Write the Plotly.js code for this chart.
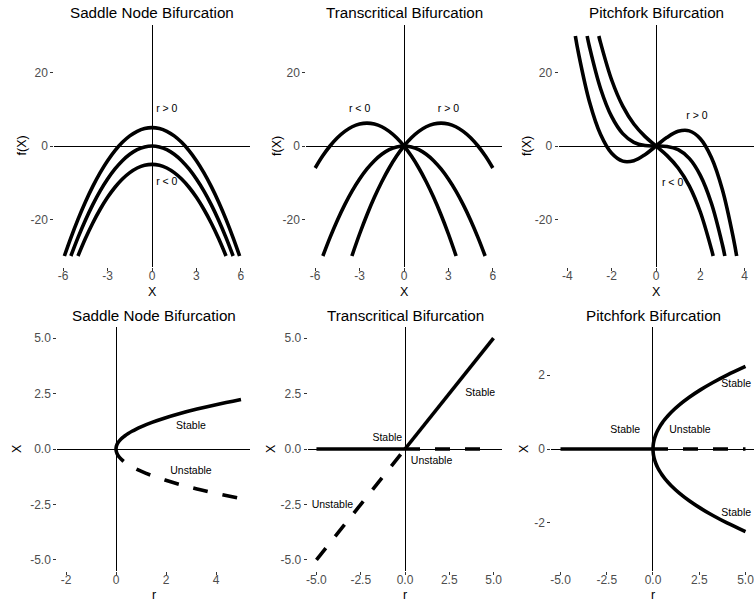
<!DOCTYPE html>
<html>
<head>
<meta charset="utf-8">
<script src="https://cdn.plot.ly/plotly-3.0.1.min.js"></script>
<style>html,body{margin:0;padding:0;background:#fff;}#chart{width:754px;height:601px;}</style>
</head>
<body>
<div id="chart"></div>
<script>
// ---------- DATA ----------
// Saddle node f(X) = r - X^2 (r = 5, 0, -5), clipped at -30
const snPosX = [-5.92,-5.5,-5,-4.5,-4,-3.5,-3,-2.5,-2,-1.5,-1,-0.5,0,0.5,1,1.5,2,2.5,3,3.5,4,4.5,5,5.5,5.92];
const snPosY = [-30,-25.25,-20,-15.25,-11,-7.25,-4,-1.25,1,2.75,4,4.75,5,4.75,4,2.75,1,-1.25,-4,-7.25,-11,-15.25,-20,-25.25,-30];
const snZeroX = [-5.48,-5,-4.5,-4,-3.5,-3,-2.5,-2,-1.5,-1,-0.5,0,0.5,1,1.5,2,2.5,3,3.5,4,4.5,5,5.48];
const snZeroY = [-30,-25,-20.25,-16,-12.25,-9,-6.25,-4,-2.25,-1,-0.25,0,-0.25,-1,-2.25,-4,-6.25,-9,-12.25,-16,-20.25,-25,-30];
const snNegX = [-5,-4.5,-4,-3.5,-3,-2.5,-2,-1.5,-1,-0.5,0,0.5,1,1.5,2,2.5,3,3.5,4,4.5,5];
const snNegY = [-30,-25.25,-21,-17.25,-14,-11.25,-9,-7.25,-6,-5.25,-5,-5.25,-6,-7.25,-9,-11.25,-14,-17.25,-21,-25.25,-30];

// Transcritical f(X) = rX - X^2
const tcPosX = [-3.52,-3,-2.5,-2,-1.5,-1,-0.5,0,0.5,1,1.5,2,2.5,3,3.5,4,4.5,5,5.5,6];
const tcPosY = [-30,-24,-18.75,-14,-9.75,-6,-2.75,0,2.25,4,5.25,6,6.25,6,5.25,4,2.25,0,-2.75,-6];
const tcZeroX = [-5.48,-5,-4.5,-4,-3.5,-3,-2.5,-2,-1.5,-1,-0.5,0,0.5,1,1.5,2,2.5,3,3.5,4,4.5,5,5.48];
const tcZeroY = [-30,-25,-20.25,-16,-12.25,-9,-6.25,-4,-2.25,-1,-0.25,0,-0.25,-1,-2.25,-4,-6.25,-9,-12.25,-16,-20.25,-25,-30];
const tcNegX = [-6,-5.5,-5,-4.5,-4,-3.5,-3,-2.5,-2,-1.5,-1,-0.5,0,0.5,1,1.5,2,2.5,3,3.52];
const tcNegY = [-6,-2.75,0,2.25,4,5.25,6,6.25,6,5.25,4,2.25,0,-2.75,-6,-9.75,-14,-18.75,-24,-30];

// Pitchfork f(X) = rX - X^3, clipped at +/-30
const pfPosX = [-3.64,-3.5,-3,-2.5,-2,-1.5,-1,-0.5,0,0.5,1,1.5,2,2.5,3,3.5,3.64];
const pfPosY = [30,25.375,12,3.125,-2,-4.125,-4,-2.375,0,2.375,4,4.125,2,-3.125,-12,-25.375,-30];
const pfZeroX = [-3.107,-3,-2.5,-2,-1.5,-1,-0.5,0,0.5,1,1.5,2,2.5,3,3.107];
const pfZeroY = [30,27,15.625,8,3.375,1,0.125,0,-0.125,-1,-3.375,-8,-15.625,-27,-30];
const pfNegX = [-2.58,-2.5,-2,-1.5,-1,-0.5,0,0.5,1,1.5,2,2.5,2.58];
const pfNegY = [30,28.125,18,10.875,6,2.625,0,-2.625,-6,-10.875,-18,-28.125,-30];

// Bifurcation diagrams
const sqrtR = [0,0.01,0.04,0.09,0.16,0.25,0.36,0.49,0.64,0.81,1,1.44,1.96,2.56,3.24,4,5];
const sqrtPos = [0,0.1,0.2,0.3,0.4,0.5,0.6,0.7,0.8,0.9,1,1.2,1.4,1.6,1.8,2,2.236];
const sqrtNeg = [0,-0.1,-0.2,-0.3,-0.4,-0.5,-0.6,-0.7,-0.8,-0.9,-1,-1.2,-1.4,-1.6,-1.8,-2,-2.236];

const leftR = [-5,0], rightR = [0,5], flatX = [0,0];
const diagLeftX = [-5,0], diagRightX = [0,5];

// Labels
const sfLabX = [1,1], sfLabY = [10,-10], sfLabT = ['r > 0','r < 0'];
const tfLabX = [-3,3], tfLabY = [10,10], tfLabT = ['r < 0','r > 0'];
const pfLabX = [1.85,0.75], pfLabY = [8,-10.3], pfLabT = ['r > 0','r < 0'];
const sbLabX = [3,3], sbLabY = [1,-1], sbLabT = ['Stable','Unstable'];
const tbLabX = [-1,1.5,4.25,-4.1], tbLabY = [0.5,-0.55,2.5,-2.55], tbLabT = ['Stable','Unstable','Stable','Unstable'];
const pbLabX = [-1.5,2,4.5,4.5], pbLabY = [0.5,0.5,1.75,-1.75], pbLabT = ['Stable','Unstable','Stable','Stable'];

const titles = ['Saddle Node Bifurcation','Transcritical Bifurcation','Pitchfork Bifurcation',
                'Saddle Node Bifurcation','Transcritical Bifurcation','Pitchfork Bifurcation'];

const ticksTopSN = [-6,-3,0,3,6],      ticksTopSNText = ['-6','-3','0','3','6'];
const ticksTopPF = [-4,-2,0,2,4],      ticksTopPFText = ['-4','-2','0','2','4'];
const ticksFX = [-20,0,20],            ticksFXText = ['-20','0','20'];
const ticksSNr = [-2,0,2,4],           ticksSNrText = ['-2','0','2','4'];
const ticks5 = [-5,-2.5,0,2.5,5],      ticks5Text = ['-5.0','-2.5','0.0','2.5','5.0'];
const ticksPFy = [-2,0,2],             ticksPFyText = ['-2','0','2'];

// ---------- LAYOUT ----------
const W = 754, H = 601;
const FONT = 'Liberation Sans, Arial, Helvetica, sans-serif';
const px = (a,b) => [a/W, b/W];
const py = (top,bottom) => [1-bottom/H, 1-top/H];

function line(x,y,xa,ya,opts){
  opts = opts || {};
  return {type:'scatter', mode:'lines', x:x, y:y, xaxis:xa, yaxis:ya,
    line:{color:'#000', width:3.6, shape: opts.shape||'linear', dash: opts.dash||'solid'},
    hoverinfo:'skip', showlegend:false};
}
function labels(x,y,t,xa,ya){
  return {type:'scatter', mode:'text', x:x, y:y, text:t, xaxis:xa, yaxis:ya,
    textfont:{family:FONT, size:10.5, color:'#000'}, textposition:'middle center',
    hoverinfo:'skip', showlegend:false};
}
const DASH = '15px,15px';
const data = [
  line(snPosX,snPosY,'x','y',{shape:'spline'}),
  line(snZeroX,snZeroY,'x','y',{shape:'spline'}),
  line(snNegX,snNegY,'x','y',{shape:'spline'}),
  labels(sfLabX,sfLabY,sfLabT,'x','y'),

  line(tcPosX,tcPosY,'x2','y2',{shape:'spline'}),
  line(tcZeroX,tcZeroY,'x2','y2',{shape:'spline'}),
  line(tcNegX,tcNegY,'x2','y2',{shape:'spline'}),
  labels(tfLabX,tfLabY,tfLabT,'x2','y2'),

  line(pfPosX,pfPosY,'x3','y3',{shape:'spline'}),
  line(pfZeroX,pfZeroY,'x3','y3',{shape:'spline'}),
  line(pfNegX,pfNegY,'x3','y3',{shape:'spline'}),
  labels(pfLabX,pfLabY,pfLabT,'x3','y3'),

  line(sqrtR,sqrtPos,'x4','y4',{shape:'spline'}),
  line(sqrtR,sqrtNeg,'x4','y4',{shape:'spline',dash:DASH}),
  labels(sbLabX,sbLabY,sbLabT,'x4','y4'),

  line(leftR,flatX,'x5','y5'),
  line(rightR,diagRightX,'x5','y5'),
  line(leftR,diagLeftX,'x5','y5',{dash:DASH}),
  line(rightR,flatX,'x5','y5',{dash:DASH}),
  labels(tbLabX,tbLabY,tbLabT,'x5','y5'),

  line(leftR,flatX,'x6','y6'),
  line(rightR,flatX,'x6','y6',{dash:DASH}),
  line(sqrtR,sqrtPos,'x6','y6',{shape:'spline'}),
  line(sqrtR,sqrtNeg,'x6','y6',{shape:'spline'}),
  labels(pbLabX,pbLabY,pbLabT,'x6','y6')
];

function axis(domain, range, tickvals, ticktext, anchor, isX){
  return {domain:domain, range:range, anchor:anchor, tickmode:'array', tickvals:tickvals, ticktext:ticktext,
    showgrid:false, showline:false, zeroline:true, zerolinecolor:'#000', zerolinewidth:1,
    ticks:'outside', ticklen:3, tickwidth:1, tickcolor:'#333',
    ticklabelstandoff: isX ? -5 : 0, ticklabeloverflow:'allow',
    tickfont:{family:FONT, size:12, color:'#4d4d4d'}, fixedrange:true};
}

const topY = py(25,267), botY = py(327,571);
const layout = {
  width:W, height:H, margin:{l:0,r:0,t:0,b:0}, paper_bgcolor:'#fff', plot_bgcolor:'rgba(0,0,0,0)',
  font:{family:FONT},
  xaxis:  axis(px(54.3,249.7), [-6.6,6.6], ticksTopSN, ticksTopSNText, 'y', true),
  yaxis:  axis(topY, [-33,33], ticksFX, ticksFXText, 'x', false),
  xaxis2: axis(px(306.3,501.7), [-6.6,6.6], ticksTopSN, ticksTopSNText, 'y2', true),
  yaxis2: axis(topY, [-33,33], ticksFX, ticksFXText, 'x2', false),
  xaxis3: axis(px(558.5,753.5), [-4.4,4.4], ticksTopPF, ticksTopPFText, 'y3', true),
  yaxis3: axis(topY, [-33,33], ticksFX, ticksFXText, 'x3', false),
  xaxis4: axis(px(57.25,249.75), [-2.35,5.35], ticksSNr, ticksSNrText, 'y4', true),
  yaxis4: axis(botY, [-5.5,5.5], ticks5, ticks5Text, 'x4', false),
  xaxis5: axis(px(307.6,502.4), [-5.5,5.5], ticks5, ticks5Text, 'y5', true),
  yaxis5: axis(botY, [-5.5,5.5], ticks5, ticks5Text, 'x5', false),
  xaxis6: axis(px(551.25,754), [-5.5,5.46], ticks5, ticks5Text, 'y6', true),
  yaxis6: axis(botY, [-3.3,3.3], ticksPFy, ticksPFyText, 'x6', false),
  annotations: []
};

const titleCenters = [[152,12.5],[404,12.5],[656,12.5],[153.5,315],[405,315],[653,315]];
titleCenters.forEach((c,i) => layout.annotations.push({
  text:titles[i], xref:'paper', yref:'paper', x:c[0]/W, y:1-c[1]/H, xanchor:'center', yanchor:'middle',
  showarrow:false, font:{family:FONT, size:15.2, color:'#000'}
}));
const xTitles = [['X',152,292],['X',404,292],['X',656,292],['r',153.5,595],['r',405,595],['r',653,595]];
xTitles.forEach(t => layout.annotations.push({
  text:t[0], xref:'paper', yref:'paper', x:t[1]/W, y:1-t[2]/H, xanchor:'center', yanchor:'middle',
  showarrow:false, font:{family:FONT, size:12.5, color:'#000'}
}));
const yTitles = [['f(X)',21.5,146],['f(X)',277,146],['f(X)',527,146],['X',17,449],['X',271,449],['X',524,449]];
yTitles.forEach(t => layout.annotations.push({
  text:t[0], xref:'paper', yref:'paper', x:t[1]/W, y:1-t[2]/H, xanchor:'center', yanchor:'middle',
  textangle:-90, showarrow:false, font:{family:FONT, size:12.5, color:'#000'}
}));

Plotly.newPlot('chart', data, layout, {staticPlot:true, displayModeBar:false});
</script>
</body>
</html>
